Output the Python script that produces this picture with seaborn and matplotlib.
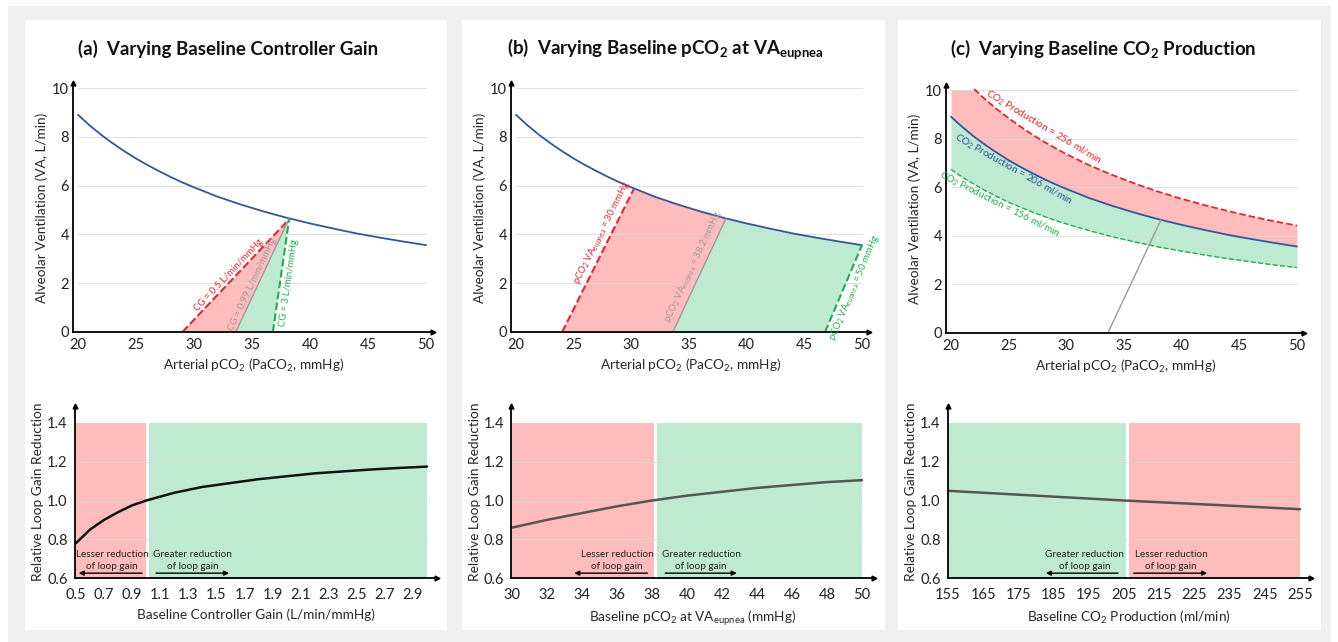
import numpy as np
import seaborn as sns
from matplotlib import pyplot as plt
from matplotlib.patches import Rectangle

# ---- data ----
paco2 = [20, 21, 22, 23, 24, 25, 26, 27, 28, 29, 30, 32, 34, 36, 38, 40, 42, 44, 46, 48, 50]
va_206 = [8.9, 8.47, 8.08, 7.73, 7.41, 7.11, 6.84, 6.59, 6.35, 6.13, 5.93,
          5.55, 5.23, 4.94, 4.68, 4.45, 4.24, 4.04, 3.87, 3.71, 3.56]
va_256 = [11.05, 10.5, 10.04, 9.6, 9.2, 8.84, 8.5, 8.18, 7.89, 7.62, 7.36,
          6.9, 6.5, 6.14, 5.81, 5.52, 5.26, 5.02, 4.8, 4.6, 4.42]
va_156 = [6.73, 6.41, 6.12, 5.85, 5.61, 5.38, 5.18, 4.99, 4.81, 4.64, 4.49,
          4.21, 3.96, 3.74, 3.54, 3.37, 3.21, 3.06, 2.93, 2.8, 2.69]

# controller gain lines (panel a): x/y end points
cg_labels = ['CG = 0.5 L/min/mmHg', 'CG = 0.99 L/min/mmHg', 'CG = 3 L/min/mmHg']
cg_x = [[29.0, 38.2], [33.6, 38.2], [36.8, 38.2]]
cg_y = [[0.0, 4.62], [0.0, 4.65], [0.0, 4.62]]

# baseline pCO2 lines (panel b)
bp_labels = [r'pCO$_2$ VA$_{\mathregular{eupnea}}$ = 30 mmHg',
             r'pCO$_2$ VA$_{\mathregular{eupnea}}$ = 38.2 mmHg',
             r'pCO$_2$ VA$_{\mathregular{eupnea}}$ = 50 mmHg']
bp_x = [[24.0, 30.2], [33.6, 38.2], [46.8, 50.0]]
bp_y = [[0.0, 5.85], [0.0, 4.65], [0.0, 3.56]]

# panel c reference line
c_line_x = [33.6, 38.2]
c_line_y = [0.0, 4.65]

# bottom panels
gain_x = [0.5, 0.6, 0.7, 0.8, 0.9, 1.0, 1.2, 1.4, 1.6, 1.8, 2.0, 2.2, 2.4, 2.6, 2.8, 3.0]
gain_y = [0.78, 0.85, 0.9, 0.94, 0.975, 1.0, 1.04, 1.07, 1.09, 1.11, 1.125, 1.14, 1.15, 1.16, 1.168, 1.175]
pco2_x = [30, 32, 34, 36, 38, 40, 42, 44, 46, 48, 50]
pco2_y = [0.86, 0.9, 0.935, 0.97, 1.0, 1.025, 1.045, 1.065, 1.08, 1.095, 1.105]
vco2_x = [155, 180, 205, 230, 255]
vco2_y = [1.05, 1.025, 1.0, 0.978, 0.955]

RED_FILL = '#ffbcbc'
GREEN_FILL = '#bfead2'
RED = '#e8242c'
GREEN = '#1fae4a'
BLUE = '#34559a'
GRAY = '#9a9a9a'

sns.set_style('white')
plt.rcParams['font.family'] = ['Lato', 'DejaVu Sans']
plt.rcParams['mathtext.default'] = 'regular'

W, H = 1338, 642
fig = plt.figure(figsize=(W / 100, H / 100), dpi=100, facecolor='white')
fig.patches.append(Rectangle((8 / W, 0), (1331 - 8) / W, (H - 6) / H, transform=fig.transFigure,
                             facecolor='#efefef', edgecolor='none', zorder=-10))
for x0, x1 in [(25, 447), (462, 885), (898, 1321)]:
    fig.patches.append(Rectangle((x0 / W, 12 / H), (x1 - x0) / W, (630 - 20) / H, transform=fig.transFigure,
                                 facecolor='white', edgecolor='none', zorder=-9))


def place(xpx, xval, ypx, yval, xlim, ylim):
    sx = (xpx[1] - xpx[0]) / (xval[1] - xval[0])
    sy = (ypx[1] - ypx[0]) / (yval[1] - yval[0])
    left = xpx[0] + (xlim[0] - xval[0]) * sx
    right = xpx[0] + (xlim[1] - xval[0]) * sx
    bot = ypx[0] + (ylim[0] - yval[0]) * sy
    top = ypx[0] + (ylim[1] - yval[0]) * sy
    ax = fig.add_axes([left / W, 1 - bot / H, (right - left) / W, (bot - top) / H])
    ax.set_xlim(xlim)
    ax.set_ylim(ylim)
    ax.set_facecolor('none')
    for s in ['top', 'right']:
        ax.spines[s].set_visible(False)
    for s in ['left', 'bottom']:
        ax.spines[s].set_color('black')
        ax.spines[s].set_linewidth(1.3)
        ax.spines[s].set_zorder(5)
    ax.plot(1, ylim[0], '>k', ms=3.5, transform=ax.get_yaxis_transform(), clip_on=False, zorder=6)
    ax.plot(xlim[0], 1, '^k', ms=3.5, transform=ax.get_xaxis_transform(), clip_on=False, zorder=6)
    ax.tick_params(length=0, labelsize=10.5, pad=3, colors='#222222')
    return ax


def grid(ax, ys, x0, x1):
    for y in ys:
        ax.plot([x0, x1], [y, y], color='#d8d8d8', lw=0.7, alpha=0.8, zorder=1.5)


def along(ax, x, y, text, frac, off, color, fs=6.8):
    p0 = ax.transData.transform((x[0], y[0]))
    p1 = ax.transData.transform((x[1], y[1]))
    ang = np.arctan2(p1[1] - p0[1], p1[0] - p0[0])
    px = x[0] + frac * (x[1] - x[0])
    py = y[0] + frac * (y[1] - y[0])
    ax.annotate(text, (px, py), xytext=(-np.sin(ang) * off, np.cos(ang) * off), textcoords='offset points',
                rotation=np.degrees(ang), ha='center', va='center', rotation_mode='anchor',
                color=color, fontsize=fs, zorder=7)


def top_axis(ax):
    ax.set_yticks([0, 2, 4, 6, 8, 10])
    ax.set_xticks([20, 25, 30, 35, 40, 45, 50])
    ax.tick_params(axis='x', pad=4)
    ax.set_ylabel('Alveolar Ventilation (VA, L/min)', fontsize=9.8, labelpad=3)
    ax.set_xlabel(r'Arterial pCO$_2$ (PaCO$_2$, mmHg)', fontsize=9.8, labelpad=4)
    grid(ax, [2, 4, 6, 8, 10], 20, 50)


def bottom_axis(ax, xt, xlabel, x0, x1):
    ax.set_yticks([0.6, 0.8, 1.0, 1.2, 1.4])
    ax.set_yticklabels(['0.6', '0.8', '1.0', '1.2', '1.4'])
    ax.set_xticks(xt)
    ax.tick_params(axis='x', pad=7)
    ax.tick_params(axis='y', pad=5)
    ax.set_ylabel('Relative Loop Gain Reduction', fontsize=9.8, labelpad=2)
    ax.set_xlabel(xlabel, fontsize=9.8, labelpad=5)
    grid(ax, [0.8, 1.0, 1.2], x0, x1)


def notes(ax, left_txt, left_x, right_txt, right_x, larrow, rarrow):
    for t, xx in [(left_txt, left_x), (right_txt, right_x)]:
        ax.text(xx, 0.69, t, ha='center', va='center', fontsize=7.2, color='#222222',
                linespacing=1.5, zorder=7)
    for a, b in [larrow, rarrow]:
        ax.annotate('', xy=(b, 0.625), xytext=(a, 0.625),
                    arrowprops=dict(arrowstyle='-|>', color='black', lw=1.0, mutation_scale=7), zorder=7)


# ---------- top panels ----------
ax_a = place((78, 426), (20, 50), (332, 88), (0, 10), (19.6, 50.6), (0, 10.2))
ax_b = place((516, 862), (20, 50), (332, 88), (0, 10), (19.6, 50.6), (0, 10.2))
ax_c = place((951, 1297), (20, 50), (333, 90), (0, 10), (19.6, 50.6), (0, 10.2))

# panel a
ax_a.fill([cg_x[0][0], cg_x[0][1], cg_x[1][0]], [cg_y[0][0], cg_y[0][1], cg_y[1][0]],
          color=RED_FILL, lw=0, zorder=1)
ax_a.fill([cg_x[1][0], cg_x[1][1], cg_x[2][0]], [cg_y[1][0], cg_y[1][1], cg_y[2][0]],
          color=GREEN_FILL, lw=0, zorder=1)
sns.lineplot(x=paco2, y=va_206, ax=ax_a, color=BLUE, lw=1.3, zorder=3)
for (xx, yy), col, ls in zip(zip(cg_x, cg_y), [RED, GRAY, GREEN], ['--', '-', '--']):
    ax_a.plot(xx, yy, color=col, ls=ls, lw=1.5 if ls == '--' else 1.0, zorder=4)
along(ax_a, cg_x[0], cg_y[0], cg_labels[0], 0.47, 4, RED)
along(ax_a, cg_x[1], cg_y[1], cg_labels[1], 0.40, 4, GRAY)
along(ax_a, cg_x[2], cg_y[2], cg_labels[2], 0.45, -6, GREEN)
top_axis(ax_a)

# panel b
px = np.array(paco2, dtype=float)
py = np.array(va_206, dtype=float)
m = (px > bp_x[0][1]) & (px < bp_x[1][1])
ax_b.fill(np.r_[bp_x[0], px[m], bp_x[1][::-1]], np.r_[bp_y[0], py[m], bp_y[1][::-1]],
          color=RED_FILL, lw=0, zorder=1)
m = (px > bp_x[1][1]) & (px < bp_x[2][1])
ax_b.fill(np.r_[bp_x[1], px[m], bp_x[2][::-1]], np.r_[bp_y[1], py[m], bp_y[2][::-1]],
          color=GREEN_FILL, lw=0, zorder=1)
sns.lineplot(x=paco2, y=va_206, ax=ax_b, color=BLUE, lw=1.3, zorder=3)
for (xx, yy), col, ls in zip(zip(bp_x, bp_y), [RED, GRAY, GREEN], ['--', '-', '--']):
    ax_b.plot(xx, yy, color=col, ls=ls, lw=1.5 if ls == '--' else 1.0, zorder=4)
along(ax_b, bp_x[0], bp_y[0], bp_labels[0], 0.67, 6, RED)
along(ax_b, bp_x[1], bp_y[1], bp_labels[1], 0.54, 6, GRAY)
along(ax_b, bp_x[2], bp_y[2], bp_labels[2], 0.55, -7.5, GREEN)
top_axis(ax_b)

# panel c
hi = np.array(va_256)
ax_c.fill_between(paco2, va_206, np.minimum(hi, 10), color=RED_FILL, lw=0, zorder=1)
ax_c.fill_between(paco2, va_156, va_206, color=GREEN_FILL, lw=0, zorder=1)
vis = hi <= 10.05
sns.lineplot(x=px[vis], y=hi[vis], ax=ax_c, color=RED, lw=1.3, linestyle='--', zorder=3)
sns.lineplot(x=paco2, y=va_156, ax=ax_c, color=GREEN, lw=1.0, linestyle='--', zorder=3)
sns.lineplot(x=paco2, y=va_206, ax=ax_c, color=BLUE, lw=1.3, zorder=3)
ax_c.plot(c_line_x, c_line_y, color=GRAY, lw=1.0, zorder=4)
along(ax_c, [24, 32], [9.2, 6.9], r'CO$_2$ Production = 256 ml/min', 0.45, 6.5, RED, fs=7.2)
along(ax_c, [22, 30], [8.08, 5.93], r'CO$_2$ Production = 206 ml/min', 0.47, -6.5, BLUE, fs=7.2)
along(ax_c, [20, 28], [6.73, 4.81], r'CO$_2$ Production = 156 ml/min', 0.57, -6.5, GREEN, fs=7.2)
top_axis(ax_c)

titles = [(228, r'(a)  Varying Baseline Controller Gain'),
          (665, r'(b)  Varying Baseline pCO$_2$ at VA$_{\mathregular{eupnea}}$'),
          (1103, r'(c)  Varying Baseline CO$_2$ Production')]
for x, t in titles:
    fig.text(x / W, 1 - 49 / H, t, ha='center', va='center', fontsize=13.5, fontweight='bold', color='#111111')

# ---------- bottom panels ----------
bx_a = place((76, 413), (0.5, 2.9), (578, 423), (0.6, 1.4), (0.49, 3.07), (0.6, 1.49))
bx_b = place((512, 862), (30, 50), (578, 423), (0.6, 1.4), (29.95, 50.7), (0.6, 1.49))
bx_c = place((948, 1300), (155, 255), (578, 423), (0.6, 1.4), (154.9, 258), (0.6, 1.49))

bx_a.fill_between([0.5, 1.0], 0.6, 1.4, color=RED_FILL, lw=0, zorder=1)
bx_a.fill_between([1.02, 3.0], 0.6, 1.4, color=GREEN_FILL, lw=0, zorder=1)
sns.lineplot(x=gain_x, y=gain_y, ax=bx_a, color='#111111', lw=1.8, zorder=3)
bottom_axis(bx_a, [0.5, 0.7, 0.9, 1.1, 1.3, 1.5, 1.7, 1.9, 2.1, 2.3, 2.5, 2.7, 2.9],
            'Baseline Controller Gain (L/min/mmHg)', 0.5, 3.0)
bx_a.set_xticklabels(['0.5', '0.7', '0.9', '1.1', '1.3', '1.5', '1.7', '1.9', '2.1', '2.3', '2.5', '2.7', '2.9'])
notes(bx_a, 'Lesser reduction\nof loop gain', 0.756, 'Greater reduction\nof loop gain', 1.33,
      (0.99, 0.5), (1.05, 1.61))

bx_b.fill_between([30, 38.1], 0.6, 1.4, color=RED_FILL, lw=0, zorder=1)
bx_b.fill_between([38.3, 50], 0.6, 1.4, color=GREEN_FILL, lw=0, zorder=1)
sns.lineplot(x=pco2_x, y=pco2_y, ax=bx_b, color='#555555', lw=1.8, zorder=3)
bottom_axis(bx_b, list(range(30, 51, 2)), r'Baseline pCO$_2$ at VA$_{\mathregular{eupnea}}$ (mmHg)', 30, 50)
notes(bx_b, 'Lesser reduction\nof loop gain', 36.0, 'Greater reduction\nof loop gain', 40.8,
      (37.9, 33.4), (38.6, 43.0))

bx_c.fill_between([155, 205.5], 0.6, 1.4, color=GREEN_FILL, lw=0, zorder=1)
bx_c.fill_between([206.5, 255], 0.6, 1.4, color=RED_FILL, lw=0, zorder=1)
sns.lineplot(x=vco2_x, y=vco2_y, ax=bx_c, color='#555555', lw=1.8, zorder=3)
bottom_axis(bx_c, list(range(155, 256, 10)), r'Baseline CO$_2$ Production (ml/min)', 155, 255)
notes(bx_c, 'Greater reduction\nof loop gain', 193.9, 'Lesser reduction\nof loop gain', 218.4,
      (204.1, 182.0), (207.0, 229.4))

fig.savefig('out.png', dpi=100, facecolor=fig.get_facecolor())
